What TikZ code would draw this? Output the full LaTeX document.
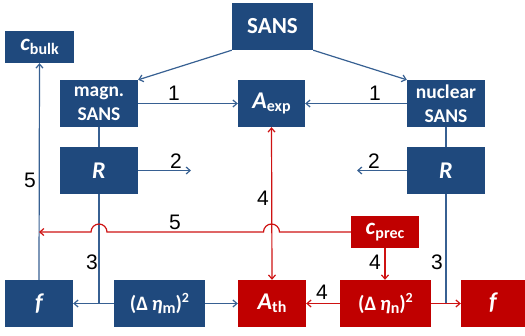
\documentclass[tikz,border=0pt]{standalone}
\usepackage{fontspec}
\setmainfont{Carlito}
\newfontfamily\numfont{Liberation Sans}
\usetikzlibrary{arrows.meta}

\definecolor{boxblue}{RGB}{31,73,125}
\definecolor{boxred}{RGB}{192,0,0}
\definecolor{lineblue}{RGB}{55,96,146}
\definecolor{linered}{RGB}{206,18,18}

% subscripts and superscripts set in text fonts
\newcommand{\lowsub}[1]{\raisebox{-0.35ex}{\fontsize{16}{16}\selectfont #1}}
\newcommand{\hisup}[1]{\raisebox{0.8ex}{\fontsize{14}{14}\selectfont #1}}

\begin{document}
\begin{tikzpicture}[x=1pt,y=-1pt,
  box/.style={fill=boxblue, text=white, inner sep=0pt, align=center,
    font=\fontsize{19.5}{23.5}\selectfont\bfseries},
  rbox/.style={box, fill=boxred},
  symbox/.style={font=\fontsize{24}{24}\selectfont\bfseries\itshape},
  tip/.style={-{Straight Barb[length=4pt,width=7pt]}},
  blue line/.style={draw=lineblue, line width=1.2pt},
  red line/.style={draw=linered, line width=1.2pt},
  barrow/.style={blue line, tip},
  rarrow/.style={red line, tip},
  num/.style={font=\numfont\fontsize{21}{21}\selectfont, inner sep=0pt}]

\useasboundingbox (0,0) rectangle (525,335);

% boxes
\node[box, minimum width=81, minimum height=47,
      font=\fontsize{23}{27}\selectfont\bfseries] (sans) at (272.5,26.5) {SANS};
\node[box, minimum width=69, minimum height=32] (cbulk) at (39.5,47)
  {{\fontsize{23}{23}\selectfont\textit{c}}\lowsub{bulk}};
\node[box, minimum width=78, minimum height=47] (magn) at (99,103.5) {magn.\\SANS};
\node[box, minimum width=67, minimum height=47] (aexp) at (271.5,103.5)
  {{\fontsize{24}{24}\selectfont\textit{A}}\lowsub{exp}};
\node[box, minimum width=78, minimum height=47] (nuc) at (446,103.5) {nuclear\\SANS};
\node[box, symbox, minimum width=78, minimum height=47] (rl) at (99,170.5) {R};
\node[box, symbox, minimum width=78, minimum height=47] (rr) at (446,170.5) {R};
\node[rbox, minimum width=68, minimum height=32] (cprec) at (385,232)
  {{\fontsize{23}{23}\selectfont\textit{c}}\lowsub{prec}};
\node[box, symbox, minimum width=68, minimum height=47] (fl) at (39,303.5) {f};
\node[box, minimum width=91, minimum height=47,
      font=\fontsize{20.5}{20.5}\selectfont\bfseries] (dm) at (159.5,303.5)
  {(Δ\,\textit{η}\lowsub{m})\hisup{2}};
\node[rbox, minimum width=68, minimum height=47] (ath) at (272,303.5)
  {{\fontsize{24}{24}\selectfont\textit{A}}\lowsub{th}};
\node[rbox, minimum width=91, minimum height=47,
      font=\fontsize{20.5}{20.5}\selectfont\bfseries] (dn) at (385.5,303.5)
  {(Δ\,\textit{η}\lowsub{n})\hisup{2}};
\node[rbox, symbox, minimum width=64, minimum height=47] (fr) at (493,303) {f};

% free ends of the two short arrows
\coordinate (r2l) at (191,170.5);
\coordinate (r2r) at (357,170.5);

% blue connectors
\draw[barrow] (sans.south west) -- (magn.north east);
\draw[barrow] (sans.south east) -- (nuc.north west);
\draw[barrow] (magn.east) -- (aexp.west);
\draw[barrow] (nuc.west) -- (aexp.east);
\draw[blue line] (magn.south) -- (rl.north);
\draw[blue line] (nuc.south) -- (rr.north);
\draw[barrow] (rl.east) -- (r2l);
\draw[barrow] (rr.west) -- (r2r);
\draw[barrow] (fl.north) -- (cbulk.south);
\draw[blue line] (rl.south) -- (rl.south |- fl.east);
\draw[barrow] (dm.west) -- (fl.east);
\draw[barrow] (dm.east) -- (ath.west);
\draw[blue line] (rr.south) -- (rr.south |- dn.east);

% red connectors
\draw[red line, {Straight Barb[length=4pt,width=7pt]}-{Straight Barb[length=4pt,width=7pt]}]
  (aexp.south) -- (ath.north);
\draw[rarrow] (cprec.west)
  -- ([xshift=8pt]aexp.south |- cprec.west) arc[start angle=0, end angle=180, radius=8pt]
  -- ([xshift=8pt]rl.south |- cprec.west) arc[start angle=0, end angle=180, radius=8pt]
  -- (fl.north |- cprec.west);
\draw[rarrow] (cprec.south) -- (cprec.south |- dn.north);
\draw[rarrow] (dn.west) -- (ath.east);
\draw[rarrow] (dn.east) -- (dn.east -| fr.west);

% step numbers
\node[num] (n1a) at (174,93) {1};
\node[num] (n1b) at (375,93) {1};
\node[num] (n2a) at (176,161) {2};
\node[num] (n2b) at (374,161) {2};
\node[num] (n4a) at (263,198) {4};
\node[num] (n5a) at (175,222) {5};
\node[num] (n5b) at (30,180) {5};
\node[num] (n3a) at (92,262) {3};
\node[num] (n4b) at (375,262) {4};
\node[num] (n3b) at (437,262) {3};
\node[num] (n4c) at (322,292) {4};
\end{tikzpicture}
\end{document}
